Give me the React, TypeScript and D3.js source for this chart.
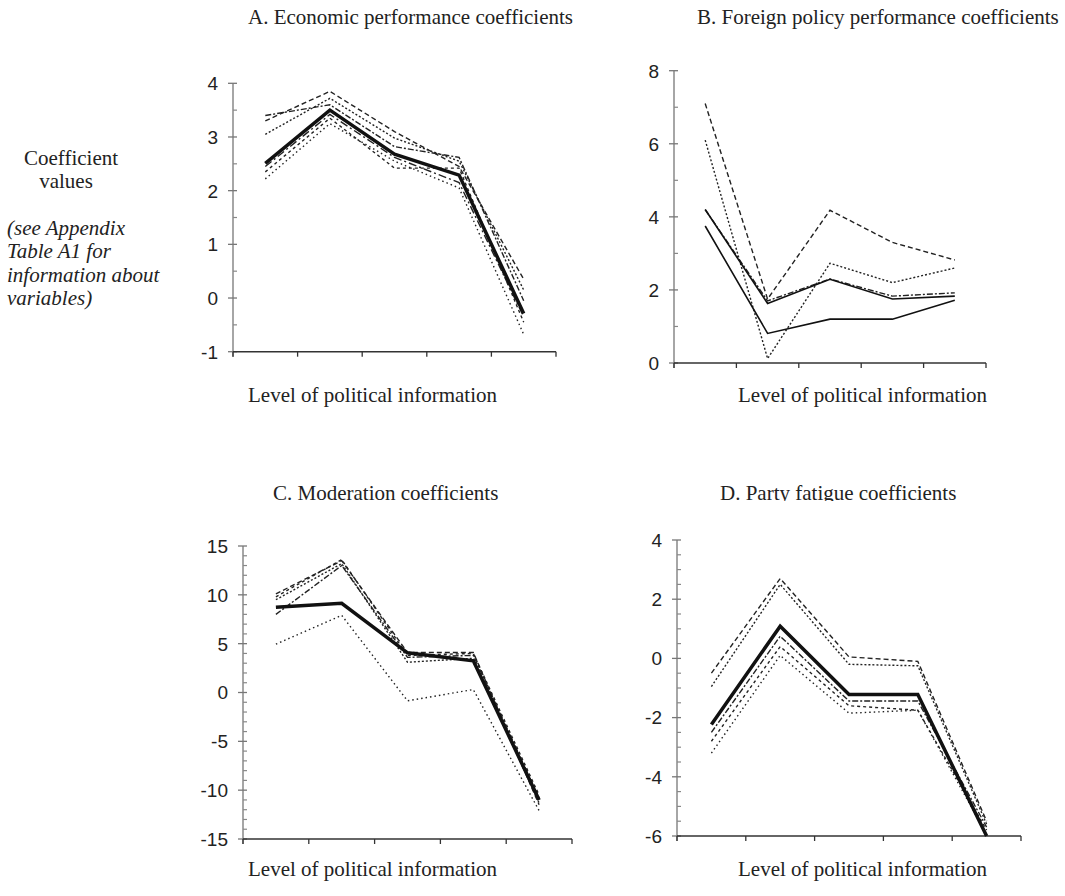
import React from "react";
import * as d3 from "d3";

// five levels of political information (x categories)
const levels = [1, 2, 3, 4, 5];

// A. Economic performance
const econMain = [2.51, 3.5, 2.68, 2.29, -0.29];
const econAlt = [
  [3.3, 3.85, 3.1, 2.45, 0.35],
  [3.05, 3.72, 2.98, 2.55, 0.15],
  [3.4, 3.6, 2.82, 2.62, -0.05],
  [2.35, 3.35, 2.42, 2.42, -0.45],
  [2.22, 3.25, 2.55, 2.05, -0.68],
  [2.45, 3.42, 2.62, 2.15, -0.35],
];

// B. Foreign policy performance
const foreignSolid = [
  [4.2, 1.63, 2.29, 1.75, 1.83],
  [3.75, 0.81, 1.2, 1.2, 1.72],
];
const foreignAlt = [
  [7.1, 1.75, 4.18, 3.3, 2.82],
  [6.1, 0.12, 2.73, 2.2, 2.6],
  [4.2, 1.7, 2.3, 1.83, 1.92],
];

// C. Moderation
const modMain = [8.73, 9.14, 4.06, 3.24, -11.0];
const modAlt = [
  [10.1, 13.5, 4.1, 4.1, -11.5],
  [9.5, 13.2, 3.1, 3.5, -11.3],
  [8.0, 13.0, 3.6, 3.8, -10.8],
  [9.8, 13.6, 3.8, 4.0, -10.5],
  [4.95, 7.9, -0.85, 0.3, -12.1],
];

// D. Party fatigue
const fatigueMain = [-2.23, 1.09, -1.22, -1.22, -6.0];
const fatigueAlt = [
  [-0.5, 2.7, 0.05, -0.1, -5.5],
  [-0.95, 2.5, -0.2, -0.25, -5.6],
  [-2.5, 0.75, -1.44, -1.44, -5.7],
  [-2.8, 0.4, -1.6, -1.75, -5.8],
  [-3.2, 0.1, -1.85, -1.75, -5.95],
];

const xLabel = "Level of political information";
const dashes = ["5,3", "2,2", "6,2,2,2", "3,3", "1.5,3", "8,3,2,3"];

const serif = "'Liberation Serif', 'Times New Roman', serif";
const sans = "'Liberation Sans', Arial, sans-serif";

const panels = [
  {
    id: "A", title: "A. Economic performance coefficients", titleX: 248, titleY: 24,
    labelX: 248, labelY: 402,
    x0: 233, x1: 556, yTop: 83.3, yBottom: 351.7, domain: [-1, 4], major: 1, minor: 0.5,
    main: [econMain], mainWidth: 3.5, alt: econAlt,
  },
  {
    id: "B", title: "B. Foreign policy performance coefficients", titleX: 697, titleY: 24,
    labelX: 738, labelY: 402,
    x0: 674, x1: 986, yTop: 70.7, yBottom: 363, domain: [0, 8], major: 2, minor: 1,
    main: foreignSolid, mainWidth: 1.6, alt: foreignAlt,
  },
  {
    id: "C", title: "C. Moderation coefficients", titleX: 273, titleY: 500,
    labelX: 248, labelY: 876,
    x0: 243, x1: 572, yTop: 546, yBottom: 839, domain: [-15, 15], major: 5, minor: 1,
    main: [modMain], mainWidth: 3.5, alt: modAlt,
  },
  {
    id: "D", title: "D. Party fatigue coefficients", titleX: 720, titleY: 500,
    labelX: 738, labelY: 876,
    x0: 677, x1: 1021, yTop: 540, yBottom: 836, domain: [-6, 4], major: 2, minor: 0.5,
    main: [fatigueMain], mainWidth: 3.5, alt: fatigueAlt,
  },
];

function Panel({ p }) {
  const x = d3.scaleBand().domain(levels).range([p.x0, p.x1]).padding(0);
  const y = d3.scaleLinear().domain(p.domain).range([p.yBottom, p.yTop]);
  const cx = (l) => x(l) + x.bandwidth() / 2;
  const line = d3.line().x((d, i) => cx(levels[i])).y((d) => y(d));

  const majors = d3.range(p.domain[0], p.domain[1] + 1e-9, p.major);
  const minors = d3.range(p.domain[0], p.domain[1] + 1e-9, p.minor)
    .filter((v) => Math.abs(v / p.major - Math.round(v / p.major)) > 1e-6);
  const xTicks = levels.map((l) => x(l)).concat([p.x1]);

  return (
    <g>
      {p.id === "D" && (
        <clipPath id="clipD">
          <rect x={p.titleX - 5} y={p.titleY - 25} width={300} height={26} />
        </clipPath>
      )}
      <text x={p.titleX} y={p.titleY} fontFamily={serif} fontSize={21} fill="#222"
        clipPath={p.id === "D" ? "url(#clipD)" : undefined}>{p.title}</text>

      {/* y axis */}
      <line x1={p.x0} x2={p.x0} y1={p.yTop} y2={p.yBottom + 5} stroke="#888" strokeWidth={1.5} />
      {majors.map((v) => (
        <g key={"M" + v}>
          <line x1={p.x0 - 5} x2={p.x0 + 4} y1={y(v)} y2={y(v)} stroke="#777" strokeWidth={1.3} />
          <text x={p.x0 - 15} y={y(v)} dy="0.36em" textAnchor="end" fontFamily={sans} fontSize={19} fill="#222">
            {v}
          </text>
        </g>
      ))}
      {minors.map((v) => (
        <line key={"m" + v} x1={p.x0} x2={p.x0 + 4} y1={y(v)} y2={y(v)} stroke="#888" strokeWidth={1.2} />
      ))}

      {/* x axis */}
      <line x1={p.x0} x2={p.x1} y1={p.yBottom} y2={p.yBottom} stroke="#333" strokeWidth={1.5} />
      {xTicks.map((t, i) => (
        <line key={"x" + i} x1={t} x2={t} y1={p.yBottom} y2={p.yBottom + 5} stroke="#333" strokeWidth={1.3} />
      ))}

      {p.alt.map((s, i) => (
        <path key={"a" + i} d={line(s)} fill="none" stroke="#222" strokeWidth={1.4}
          strokeDasharray={dashes[i % dashes.length]} />
      ))}
      {p.main.map((s, i) => (
        <path key={"s" + i} d={line(s)} fill="none" stroke="#111" strokeWidth={p.mainWidth}
          strokeLinejoin="miter" />
      ))}

      <text x={p.labelX} y={p.labelY} fontFamily={serif} fontSize={21} fill="#222">{xLabel}</text>
    </g>
  );
}

export default function App() {
  return (
    <svg width={1065} height={896} style={{ position: "absolute", left: 0, top: 0, background: "#fff" }}>
      <rect width={1065} height={896} fill="#fff" />
      <g fontFamily={serif} fontSize={21} fill="#222">
        <text x={71} y={165} textAnchor="middle">Coefficient</text>
        <text x={66} y={188} textAnchor="middle">values</text>
        <g fontStyle="italic">
          <text x={7} y={235}>(see Appendix</text>
          <text x={7} y={258}>Table A1 for</text>
          <text x={7} y={282}>information about</text>
          <text x={7} y={305}>variables)</text>
        </g>
      </g>
      {panels.map((p) => <Panel key={p.id} p={p} />)}
    </svg>
  );
}
